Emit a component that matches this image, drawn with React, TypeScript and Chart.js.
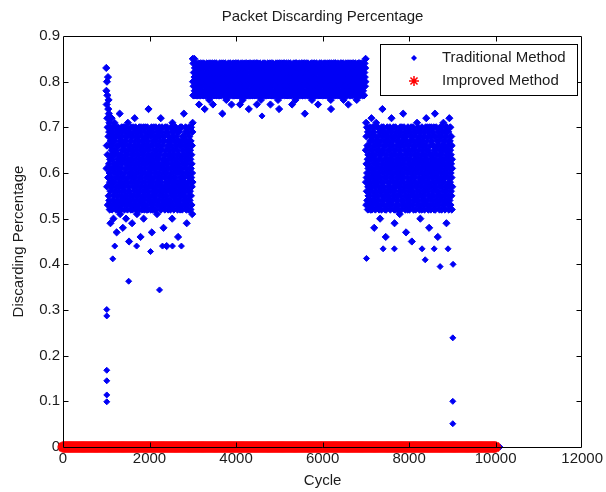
import React, { useEffect, useRef } from 'react';
import { Chart, registerables } from 'chart.js';

Chart.register(...registerables);

const chartTitle = 'Packet Discarding Percentage';
const xAxisTitle = 'Cycle';
const yAxisTitle = 'Discarding Percentage';
const seriesNames = ['Traditional Method', 'Improved Method'];

const xTickValues = [0, 2000, 4000, 6000, 8000, 10000, 12000];
const yTickValues = [0, 0.1, 0.2, 0.3, 0.4, 0.5, 0.6, 0.7, 0.8, 0.9];

// Traditional method, first congestion block: cycles 1000-3000, values in percent
const blockACycles = [1000, 3000];
const blockAPercent = [
  83,78,61,75,66,80,57,72,77,64,70,53,81,59,74,68,76,55,73,62,
  69,54,71,60,52,66,58,63,70,49,56,67,61,53,68,64,57,72,59,65,
  52,63,69,57,66,54,70,61,58,67,50,64,55,68,60,53,62,71,56,65,
  67,58,53,64,70,56,61,52,68,59,65,54,47,62,69,57,66,60,53,63,
  55,70,62,52,59,68,64,57,53,66,61,69,56,73,58,63,51,67,54,60,
  64,52,67,58,69,55,61,70,53,62,57,65,59,68,54,48,66,56,63,70,
  59,66,54,63,57,70,52,65,60,56,69,53,64,58,67,61,55,50,68,62,
  70,53,61,68,55,64,58,52,66,59,71,63,54,69,57,62,56,65,45,60,
  56,62,69,53,66,60,54,67,63,70,52,58,65,55,61,68,59,64,53,49,
  63,68,52,60,57,65,70,55,62,54,66,59,53,69,64,56,61,72,58,67,
  53,59,66,70,61,52,63,57,68,54,60,65,55,51,62,69,58,64,56,66,
  68,55,60,64,53,67,58,62,56,70,52,61,66,59,54,63,69,57,46,65,
  61,70,57,54,65,59,68,52,63,60,55,67,53,64,58,66,62,56,70,50,
  54,64,62,67,52,56,60,69,58,65,53,70,61,57,63,55,68,59,66,52,
  66,57,68,53,62,70,55,64,59,52,67,56,60,74,54,65,61,69,57,63,
  58,63,55,61,69,54,66,60,52,68,57,64,62,53,70,59,47,66,55,61,
  69,52,64,58,56,63,53,67,61,57,70,54,65,59,62,52,68,56,64,60,
  55,67,60,52,70,61,57,65,54,63,58,68,51,66,56,62,53,69,59,64,
  62,58,66,63,54,68,60,56,70,53,64,59,55,67,61,57,65,52,72,58,
  52,69,56,65,59,55,62,70,57,61,66,53,68,54,60,63,56,48,67,62,
  67,61,53,57,68,64,52,59,63,55,70,60,56,65,58,69,54,62,57,44,
  60,55,70,62,53,66,58,69,52,64,57,61,67,54,63,59,68,56,65,53,
  57,66,59,54,64,52,67,61,56,70,60,53,63,58,66,55,62,50,69,71,
  64,53,62,68,57,60,55,65,59,52,69,56,64,61,54,67,58,63,70,56,
  70,59,55,61,66,57,63,53,68,62,54,60,58,65,52,64,56,69,46,61,
  53,62,67,56,60,69,54,58,64,57,66,52,61,55,70,59,63,53,67,58,
  66,56,61,70,55,63,59,52,67,60,57,65,53,68,62,56,64,58,73,54,
  59,68,53,64,58,55,66,62,56,61,70,54,69,57,63,52,60,67,49,65,
  62,54,65,57,69,53,60,64,58,66,52,63,56,70,59,55,68,61,54,67,
  56,65,58,63,52,67,61,55,70,59,64,53,62,57,66,60,51,69,58,71,
];

// Second block (heaviest load): cycles 3000-7000
const blockBCycles = [3000, 7000];
const blockBPercent = [
  85,80,77,84,79,82,77,85,81,78,83,80,77,84,79,82,77,81,83,78,
  80,77,83,79,81,77,84,78,82,75,80,83,77,79,84,81,77,82,78,80,
  82,78,80,84,77,81,79,83,77,80,82,77,84,78,81,74,79,83,77,80,
  77,83,79,81,78,84,80,77,82,79,83,77,81,78,80,84,76,82,79,81,
  81,79,84,77,82,80,77,83,78,81,79,84,77,75,82,80,78,83,77,79,
  84,77,81,80,78,83,79,82,77,84,80,77,81,79,83,78,82,80,77,81,
  78,82,80,77,84,79,81,77,83,80,78,82,77,84,79,81,80,73,83,78,
  80,84,77,82,79,81,77,83,80,78,84,79,82,77,81,76,83,80,78,82,
  83,78,81,79,77,84,80,82,77,81,79,83,78,80,84,77,82,79,81,75,
  79,81,83,77,80,82,78,84,77,79,83,81,77,82,80,78,84,77,81,80,
  77,83,79,81,84,77,80,78,82,77,81,84,79,83,77,80,82,78,75,81,
  82,80,78,84,77,81,83,79,77,82,80,76,84,78,81,83,79,80,77,82,
  81,77,84,80,82,78,79,83,77,80,84,77,82,79,81,78,83,77,80,74,
  78,84,80,77,83,81,77,82,80,84,78,81,79,83,77,82,80,77,84,79,
  80,79,82,83,77,80,84,77,81,78,82,79,83,77,80,84,75,81,78,82,
  84,81,77,79,82,77,80,83,78,81,77,84,80,82,79,76,83,78,81,80,
  77,80,83,81,78,84,77,79,82,80,83,78,81,77,84,79,82,77,80,83,
  83,77,81,78,80,82,79,84,77,83,80,77,82,79,81,78,84,80,77,75,
  79,82,84,77,81,79,83,77,80,82,78,84,77,81,83,80,77,82,79,81,
  81,78,80,83,77,84,81,79,82,77,80,83,78,84,76,81,79,82,80,74,
  77,84,79,82,80,77,83,78,81,84,77,80,82,79,83,77,81,78,84,80,
  82,79,83,77,84,80,78,82,79,81,83,77,80,84,78,82,77,81,79,83,
  80,77,81,84,79,83,77,80,82,78,81,84,79,77,83,80,82,77,81,75,
  78,83,80,79,82,77,84,81,77,83,79,80,82,78,84,76,81,83,79,80,
  84,80,77,82,78,81,79,83,80,77,82,84,77,81,79,83,78,80,82,77,
  79,81,84,78,83,80,77,82,77,84,80,79,83,78,81,77,84,80,73,82,
  81,77,82,80,79,84,78,81,83,77,80,82,79,84,77,83,80,78,82,79,
  77,83,79,81,77,82,80,84,78,81,83,76,80,82,79,84,77,81,78,83,
  83,80,78,84,81,77,82,79,80,83,77,81,84,78,82,80,79,83,77,75,
  80,78,83,77,82,79,84,80,77,81,82,79,83,80,77,84,78,81,82,80,
  77,82,80,83,79,81,77,84,82,78,80,83,77,81,84,79,82,77,80,78,
  82,79,81,77,84,80,83,77,81,79,82,78,84,80,77,83,79,81,76,74,
  79,84,77,82,80,78,81,83,79,77,84,80,82,78,81,83,77,80,84,79,
  84,77,82,80,78,83,79,81,77,82,80,84,78,83,79,81,77,82,80,77,
  78,81,80,84,82,77,83,79,80,84,77,81,79,82,78,84,80,76,83,81,
  81,83,77,79,80,82,78,84,81,77,83,80,79,82,77,81,84,78,80,75,
  80,78,84,81,77,83,80,79,82,84,77,81,83,78,80,82,79,84,77,81,
  83,80,79,82,84,78,81,77,83,80,82,77,84,79,81,78,83,80,76,82,
  77,82,81,78,80,84,79,83,77,81,80,84,78,82,77,83,81,79,84,80,
  79,81,83,80,77,82,84,78,81,79,83,80,77,82,84,81,79,83,80,85,
];

// Third block: cycles 7000-9000
const blockCCycles = [7000, 9000];
const blockCPercent = [
  65,58,71,53,68,62,59,56,70,60,54,66,59,63,52,69,57,64,61,55,
  62,69,55,60,66,53,64,58,70,57,61,67,52,63,56,68,59,54,65,72,
  57,63,68,52,61,65,56,70,59,54,67,60,53,64,58,69,62,55,48,66,
  70,54,60,66,57,63,52,68,61,55,64,59,71,56,62,53,67,58,65,60,
  53,67,62,58,70,55,65,60,54,68,57,63,52,66,59,61,69,56,64,50,
  64,59,56,69,53,61,67,57,63,52,70,58,65,55,62,74,54,60,68,57,
  58,65,70,54,62,57,53,66,60,69,56,64,59,52,67,61,55,63,46,68,
  66,52,61,64,59,68,56,62,55,70,53,60,67,58,63,54,69,57,61,65,
  55,62,67,57,65,53,60,70,58,63,52,66,56,61,68,59,54,64,72,62,
  61,69,53,63,56,66,59,54,67,60,64,57,70,55,62,58,65,52,68,49,
  68,56,64,60,52,62,70,58,65,57,61,55,53,69,60,66,63,59,54,67,
  52,63,58,67,61,55,64,69,53,60,66,57,62,68,56,51,59,65,70,61,
  63,57,69,55,66,59,52,61,64,58,70,54,67,60,56,63,53,68,62,73,
  59,66,54,62,58,70,60,56,68,53,63,65,57,61,52,67,55,64,69,47,
  67,53,61,68,55,64,57,63,59,66,52,60,70,54,65,58,62,56,53,69,
  54,61,66,52,63,57,69,60,55,67,62,58,64,53,70,56,68,59,61,45,
  60,68,57,65,53,62,55,70,61,56,66,52,59,67,63,54,60,69,58,64,
  65,55,62,59,69,52,66,57,63,60,54,68,61,55,64,71,57,53,67,62,
  56,64,70,54,60,67,58,53,65,62,69,56,52,63,59,66,61,55,50,68,
  69,58,53,63,57,61,64,66,52,70,55,60,67,58,62,54,65,59,64,56,
  53,66,60,68,62,55,59,52,69,57,63,61,54,66,60,70,56,64,58,72,
  62,57,65,53,67,60,70,63,56,54,68,59,65,52,61,57,62,69,55,48,
  58,70,55,61,64,57,53,66,60,68,52,62,57,64,70,55,59,67,63,60,
  64,54,62,69,56,59,66,61,53,63,58,70,55,60,52,68,62,57,65,73,
  57,63,52,60,68,65,54,58,70,61,56,64,59,53,67,62,66,55,60,46,
  66,60,69,56,53,62,58,67,64,55,61,52,68,63,57,70,54,59,65,62,
  55,68,61,64,59,70,52,60,57,66,63,54,62,69,58,56,65,53,71,60,
  63,53,58,66,62,55,67,59,69,52,60,65,56,61,54,68,57,64,70,49,
  60,65,56,70,54,63,61,57,62,66,53,69,59,55,64,52,67,58,63,72,
  54,61,67,58,65,57,70,53,60,64,56,62,68,55,59,66,52,63,61,57,
];

// Isolated traditional-method points (cycle, value)
const isolatedCycles = [
  1012, 1012, 1012, 1012, 1012, 1012, 1150, 1518, 2231, 2024, 1196, 1702, 2300, 2530, 2737,
  4600, 7015, 8372, 8717, 9016, 9010, 9010, 9010, 7400, 7660, 8300, 8580, 8900,
  0, 300, 600, 900, 9200, 9500, 9800, 10100,
];
const isolatedValues = [
  0.301, 0.287, 0.168, 0.145, 0.114, 0.099, 0.412, 0.363, 0.344, 0.428, 0.44, 0.44, 0.44, 0.44, 0.44,
  0.725, 0.413, 0.41, 0.395, 0.4, 0.239, 0.1, 0.051, 0.434, 0.434, 0.434, 0.434, 0.434,
  0, 0, 0, 0, 0, 0, 0, 0,
];

// Improved method: zero discarding over cycles 0-10000 (sampled every 25 cycles)
const improvedCycles = [0, 10000];
const improvedSampleStep = 25;
const improvedValue = 0;

const FONT = 'Liberation Sans, Arial, Helvetica, sans-serif';
const TEXT = '#1c1c1c';
const BLUE = '#0000f5';
const RED = '#ff0000';

function spread(range: number[], percents: number[]) {
  const [start, end] = range;
  const step = (end - start) / percents.length;
  return percents.map((p, i) => ({ x: start + i * step, y: p / 100 }));
}

const framePlugin = {
  id: 'matlabFrame',
  afterDatasetsDraw(chart: any) {
    const { ctx, chartArea: a, scales } = chart;
    const L = Math.round(a.left) + 0.5;
    const R = Math.round(a.right) - 0.5;
    const T = Math.round(a.top) + 0.5;
    const B = Math.round(a.bottom) + 0.5;
    ctx.save();
    ctx.strokeStyle = '#000';
    ctx.lineWidth = 1;
    ctx.beginPath();
    ctx.rect(L, T, R - L, B - T);
    const tl = 5;
    xTickValues.slice(1, -1).forEach((v) => {
      const px = Math.round(scales.x.getPixelForValue(v)) + 0.5;
      ctx.moveTo(px, B);
      ctx.lineTo(px, B - tl);
      ctx.moveTo(px, T);
      ctx.lineTo(px, T + tl);
    });
    yTickValues.slice(1, -1).forEach((v) => {
      const py = Math.round(scales.y.getPixelForValue(v)) + 0.5;
      ctx.moveTo(L, py);
      ctx.lineTo(L + tl, py);
      ctx.moveTo(R, py);
      ctx.lineTo(R - tl, py);
    });
    ctx.stroke();
    ctx.restore();
  },
};

const legendPlugin = {
  id: 'matlabLegend',
  afterDraw(chart: any) {
    const { ctx } = chart;
    const bx = 380.5, by = 44.5, bw = 197, bh = 51;
    ctx.save();
    ctx.fillStyle = '#fff';
    ctx.fillRect(bx, by, bw, bh);
    ctx.strokeStyle = '#000';
    ctx.lineWidth = 1;
    ctx.strokeRect(bx, by, bw, bh);
    const mx = 414;
    let my = 58;
    ctx.fillStyle = BLUE;
    ctx.beginPath();
    ctx.moveTo(mx - 3, my);
    ctx.lineTo(mx, my - 3);
    ctx.lineTo(mx + 3, my);
    ctx.lineTo(mx, my + 3);
    ctx.closePath();
    ctx.fill();
    my = 81;
    ctx.strokeStyle = RED;
    ctx.lineWidth = 1.5;
    ctx.beginPath();
    const r = 5;
    for (let k = 0; k < 4; k++) {
      const ang = (k * Math.PI) / 4;
      ctx.moveTo(mx - Math.cos(ang) * r, my - Math.sin(ang) * r);
      ctx.lineTo(mx + Math.cos(ang) * r, my + Math.sin(ang) * r);
    }
    ctx.stroke();
    ctx.fillStyle = TEXT;
    ctx.font = `15px ${FONT}`;
    ctx.textBaseline = 'middle';
    ctx.textAlign = 'left';
    ctx.fillText(seriesNames[0], 442, 58);
    ctx.fillText(seriesNames[1], 442, 81);
    ctx.restore();
  },
};

export default function App() {
  const ref = useRef<HTMLCanvasElement | null>(null);

  useEffect(() => {
    if (!ref.current) return;

    const blockPoints = [
      ...spread(blockACycles, blockAPercent),
      ...spread(blockBCycles, blockBPercent),
      ...spread(blockCCycles, blockCPercent),
    ];
    const traditional = [
      ...blockPoints,
      ...isolatedCycles.map((c, i) => ({ x: c, y: isolatedValues[i] })),
    ];
    const denseCount = blockPoints.length;
    const improved: { x: number; y: number }[] = [];
    for (let c = improvedCycles[0]; c <= improvedCycles[1]; c += improvedSampleStep) {
      improved.push({ x: c, y: improvedValue });
    }

    const font = { family: FONT, size: 15, weight: 'normal' as const };

    const chart = new Chart(ref.current, {
      type: 'scatter',
      data: {
        datasets: [
          {
            label: seriesNames[0],
            data: traditional,
            pointStyle: 'rectRot',
            pointRadius: (ctx: any) => (ctx.dataIndex < denseCount ? 3.6 : 3),
            pointBorderWidth: 1,
            backgroundColor: BLUE,
            borderColor: BLUE,
            clip: false,
            order: 1,
          } as any,
          {
            label: seriesNames[1],
            data: improved,
            pointStyle: 'star',
            pointRadius: 5.5,
            pointBorderWidth: 3,
            backgroundColor: RED,
            borderColor: RED,
            clip: false,
            order: 0,
          } as any,
        ],
      },
      options: {
        responsive: false,
        animation: false,
        devicePixelRatio: 1,
        events: [],
        layout: { padding: { left: 0, right: 21, top: 0, bottom: 0 } },
        plugins: {
          legend: { display: false },
          tooltip: { enabled: false },
          title: {
            display: true,
            text: chartTitle,
            fullSize: false,
            color: TEXT,
            font,
            padding: { top: 8, bottom: 10 },
          },
        },
        scales: {
          x: {
            type: 'linear',
            min: 0,
            max: 12000,
            grid: { display: false, drawTicks: false },
            border: { display: false },
            afterBuildTicks: (axis: any) => {
              axis.ticks = xTickValues.map((value) => ({ value }));
            },
            afterFit: (axis: any) => {
              axis.height = 45;
            },
            ticks: {
              padding: 3,
              color: TEXT,
              font,
              maxRotation: 0,
              autoSkip: false,
              callback: (v: any) => String(v),
            },
            title: {
              display: true,
              text: xAxisTitle,
              color: TEXT,
              font,
              padding: { top: 0, bottom: 2 },
            },
          },
          y: {
            type: 'linear',
            min: 0,
            max: 0.9,
            grid: { display: false, drawTicks: false },
            border: { display: false },
            afterBuildTicks: (axis: any) => {
              axis.ticks = yTickValues.map((value) => ({ value }));
            },
            afterFit: (axis: any) => {
              axis.width = 63;
            },
            ticks: {
              padding: 3,
              color: TEXT,
              font,
              autoSkip: false,
              callback: (v: any) => (Number(v) === 0 ? '0' : Number(v).toFixed(1)),
            },
            title: {
              display: true,
              text: yAxisTitle,
              color: TEXT,
              font,
              padding: { top: 10, bottom: 0 },
            },
          },
        },
      },
      plugins: [framePlugin, legendPlugin],
    } as any);

    return () => chart.destroy();
  }, []);

  return (
    <div style={{ position: 'fixed', left: 0, top: 0, width: 606, height: 492, background: '#fff' }}>
      <canvas ref={ref} width={606} height={492} style={{ display: 'block', width: 606, height: 492 }} />
    </div>
  );
}
